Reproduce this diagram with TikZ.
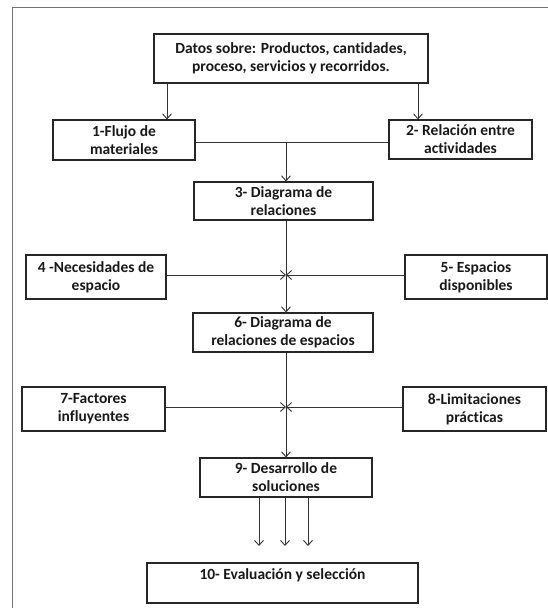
\documentclass[tikz,border=0pt]{standalone}
\usepackage{fontspec}
\setmainfont{Carlito}[Ligatures=NoCommon]
\usetikzlibrary{arrows.meta}
\begin{document}
\begin{tikzpicture}[x=1pt,y=-1pt,
  box/.style={draw=black!85, line width=1.1pt, fill=white, align=center,
    inner sep=0pt, font=\fontsize{15.5}{18}\selectfont\bfseries, text=black!90},
  conn/.style={draw=black!80, line width=0.9pt},
  arr/.style={conn, -{Straight Barb[length=5pt,width=9pt]}},
  frame/.style={draw=black!55, line width=1.6pt}]
\useasboundingbox (0,0) rectangle (548,608);
% outer frame
\draw[frame] (12.5,620) -- (12.5,7.5) -- (560,7.5);
% boxes
\node[box, minimum width=274pt, minimum height=49pt] (top) at (291,58.5)
  {Datos sobre: Productos, cantidades,\\proceso, servicios y recorridos.};
\node[box, minimum width=142pt, minimum height=40pt] (b1) at (124,140)
  {1-Flujo de\\materiales};
\node[box, minimum width=143pt, minimum height=39pt] (b2) at (460.5,139.5)
  {2- Relación entre\\actividades};
\node[box, minimum width=179pt, minimum height=38pt] (b3) at (283.5,201)
  {3- Diagrama de\\relaciones};
\node[box, minimum width=140pt, minimum height=44pt] (b4) at (96,277)
  {4 -Necesidades de\\espacio};
\node[box, minimum width=142pt, minimum height=44pt] (b5) at (476,277)
  {5- Espacios\\disponibles};
\node[box, minimum width=180pt, minimum height=39pt] (b6) at (283,332.5)
  {6- Diagrama de\\relaciones de espacios};
\node[box, minimum width=143pt, minimum height=44pt] (b7) at (93.5,409)
  {7-Factores\\influyentes};
\node[box, minimum width=143pt, minimum height=44pt] (b8) at (474.5,409)
  {8-Limitaciones\\prácticas};
\node[box, minimum width=172pt, minimum height=39pt] (b9) at (286,477.5)
  {9- Desarrollo de\\soluciones};
\node[box, minimum width=271pt, minimum height=40pt] (b10) at (282.5,583) {};
\node[box, draw=none, fill=none, anchor=north] (t10) at ([yshift=-6pt]b10.north)
  {10- Evaluación y selección};
% helper coordinates
\coordinate (xl) at (167,0);
\coordinate (xr) at (418,0);
\coordinate (j1) at (286,142);
\coordinate (j2) at (286,275);
\coordinate (j3) at (286,407);
\coordinate (e1) at (259,546);
\coordinate (e2) at (285,546);
\coordinate (e3) at (308,546);
% connectors
\draw[arr] (top.south -| xl) -- (b1.north -| xl);
\draw[arr] (top.south -| xr) -- (b2.north -| xr);
\draw[conn] (b1.east |- j1) -- (b2.west |- j1);
\draw[arr] (j1) -- (b3.north -| j1);
\draw[arr] (b3.south -| j1) -- (b6.north -| j1);
\draw[arr] (b4.east |- j2) -- (j2);
\draw[arr] (b5.west |- j2) -- (j2);
\draw[arr] (b6.south -| j1) -- (b9.north -| j1);
\draw[arr] (b7.east |- j3) -- (j3);
\draw[arr] (b8.west |- j3) -- (j3);
\draw[arr] (b9.south -| e1) -- (e1);
\draw[arr] (b9.south -| e2) -- (e2);
\draw[arr] (b9.south -| e3) -- (e3);
\end{tikzpicture}
\end{document}
